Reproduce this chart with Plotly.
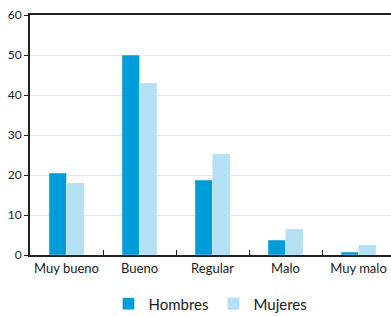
import plotly.graph_objects as go

categories = ["Muy bueno", "Bueno", "Regular", "Malo", "Muy malo"]
hombres = [20.5, 50, 18.75, 3.75, 0.75]
mujeres = [18, 43, 25.25, 6.5, 2.5]
y_ticks = [0, 10, 20, 30, 40, 50, 60]

fig = go.Figure()
fig.add_trace(go.Bar(x=categories, y=hombres, name="Hombres", marker_color="#009ddb"))
fig.add_trace(go.Bar(x=categories, y=mujeres, name="Mujeres", marker_color="#b3e1f3"))

fig.update_layout(
    width=391, height=316,
    margin=dict(l=30, r=0, t=15, b=61, autoexpand=False),
    paper_bgcolor="white", plot_bgcolor="white",
    barmode="group", bargap=0.52, bargroupgap=0,
    font=dict(family="Lato, sans-serif", size=12, color="#1a1a1a"),
    showlegend=True,
    legend=dict(orientation="h", x=0.5, xanchor="center", y=-0.135, yanchor="top",
                font=dict(size=15), itemwidth=30, traceorder="normal"),
)
fig.update_xaxes(
    range=[-0.5, 4.445], showline=True, linecolor="#222", linewidth=2, mirror=True,
    ticks="inside", tickson="boundaries", ticklen=5, tickcolor="#222", tickangle=0,
    showgrid=False, tickfont=dict(size=13), fixedrange=True, automargin=False,
)
fig.update_yaxes(
    range=[0, 60], tickvals=y_ticks, showline=True, linecolor="#222", linewidth=2,
    ticks="outside", ticklen=4, tickcolor="#222",
    showgrid=True, gridcolor="#e8e8e8", gridwidth=1, zeroline=False,
    tickfont=dict(size=12), automargin=False,
)
fig.write_html("out.html", config={"displayModeBar": False},
               post_script="document.body.style.margin='0';document.body.style.overflow='hidden';")
